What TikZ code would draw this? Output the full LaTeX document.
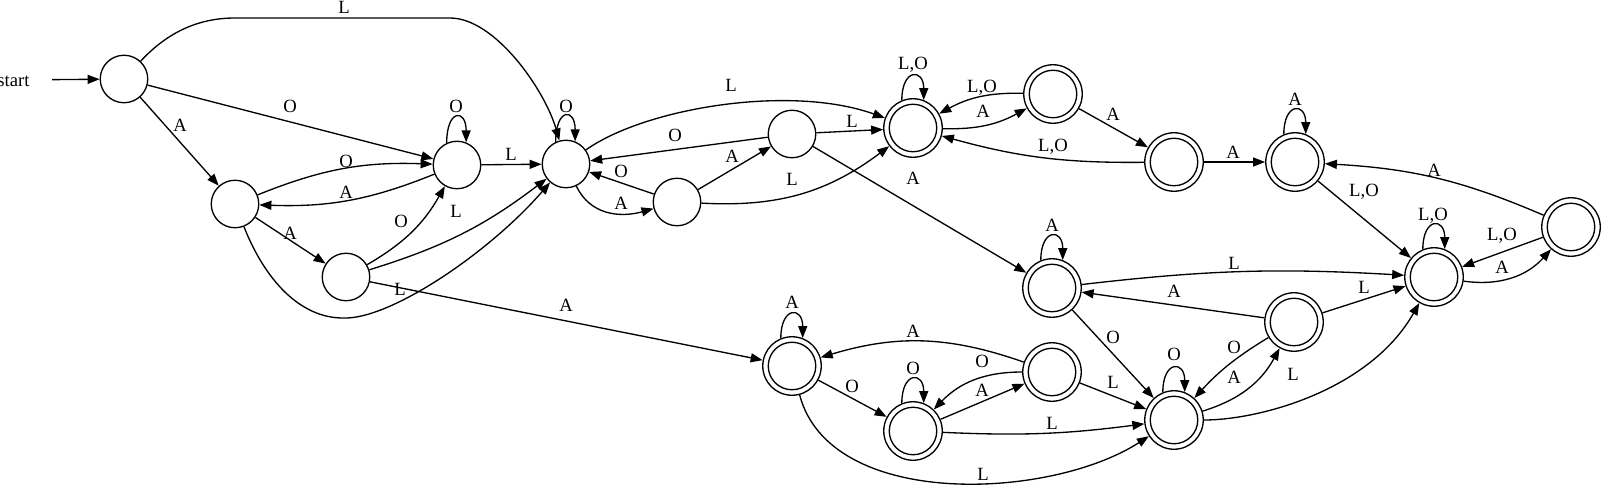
\documentclass[tikz,border=0pt]{standalone}
\usepackage{fontspec}
\setmainfont{Liberation Serif}
\usetikzlibrary{arrows.meta}
\begin{document}
\begin{tikzpicture}[x=1pt,y=-1pt,
  every node/.style={font=\fontsize{18.67}{20}\selectfont},
  st/.style={circle, draw, line width=1.33pt, minimum size=47.5pt, inner sep=0pt},
  acc/.style={st, minimum size=58.5pt,
    path picture={\draw[line width=1.33pt] (path picture bounding box.center) circle (23.75pt);}},
  e/.style={draw, line width=1.33pt, -{Triangle[length=12pt,width=9pt]}},
  lbl/.style={inner sep=0pt, text height=12.4pt, text depth=0pt, anchor=center},
]
\useasboundingbox (0,0) rectangle (1603,490);
% states
\node[lbl, minimum width=77pt] (start) at (13.5,80) {start};
\node[st] (q0) at (124,79) {};
\node[st] (q1) at (235,204) {};
\node[st] (q2) at (457,165) {};
\node[st] (q3) at (346,277) {};
\node[st] (q4) at (566,164) {};
\node[st] (q5) at (677,202) {};
\node[st] (q6) at (792,134) {};
\node[acc] (F1) at (913,128) {};
\node[acc] (F2) at (1053,94) {};
\node[acc] (F3) at (1174,162) {};
\node[acc] (F4) at (1295,162) {};
\node[acc] (F5) at (1052,288) {};
\node[acc] (F6) at (1434,277) {};
\node[acc] (F7) at (1571,227) {};
\node[acc] (F8) at (1294,322) {};
\node[acc] (G1) at (792,366) {};
\node[acc] (G2) at (913,431) {};
\node[acc] (G3) at (1052,372) {};
\node[acc] (G4) at (1174,420) {};
% transitions
\draw[e] (start) -- (q0);
\draw[e] (q0) .. controls (165,35) and (195,18) .. (235,18) -- (450,18) .. controls (495,18) and (545,90) .. (q4) node[lbl] at (344,7) {L};
\draw[e] (q0) -- (q2) node[lbl] at (290,106) {O};
\draw[e] (q0) -- (q1) node[lbl] at (180,125) {A};
\draw[e] (q1) to[bend left=12] (q2) node[lbl] at (346,161) {O};
\draw[e] (q2) to[bend left=12] (q1) node[lbl] at (346,192) {A};
\draw[e] (q1) -- (q3) node[lbl] at (290,233) {A};
\draw[e] (q1) .. controls (265,280) and (300,318) .. (343,318) .. controls (390,320) and (490,252) .. (q4) node[lbl] at (400,289) {L};
\draw[e] (q2.115) .. controls +(0,-34) and +(0,-34) .. (q2.68) node[lbl] at (456,106) {O};
\draw[e] (q2) -- (q4) node[lbl] at (511,154) {L};
\draw[e] (q3) to[bend right=15] (q2) node[lbl] at (401,221) {O};
\draw[e] (q3) to[bend right=10] (q4) node[lbl] at (456,211) {L};
\draw[e] (q3) -- (G1) node[lbl] at (566,305) {A};
\draw[e] (q4.115) .. controls +(0,-34) and +(0,-34) .. (q4.68) node[lbl] at (566,106) {O};
\draw[e] (q4) .. controls (645,108) and (790,84) .. (F1) node[lbl] at (731,85) {L};
\draw[e] (q4) .. controls (590,215) and (620,218) .. (q5) node[lbl] at (621,203) {A};
\draw[e] (q5) -- (q4) node[lbl] at (621,171) {O};
\draw[e] (q6) -- (q4) node[lbl] at (675,135) {O};
\draw[e] (q5) -- (q6) node[lbl] at (732,156) {A};
\draw[e] (q5) to[bend right=20] (F1) node[lbl] at (792,179) {L};
\draw[e] (q6) -- (F1) node[lbl] at (852,121) {L};
\draw[e] (q6) -- (F5) node[lbl] at (913,178) {A};
\draw[e] (F1.112) .. controls +(0,-32) and +(0,-32) .. (F1.69) node[lbl] at (913,63) {L,O};
\draw[e] (F1) to[bend right=15] (F2) node[lbl] at (983,111) {A};
\draw[e] (F2) to[bend right=15] (F1) node[lbl] at (982,86) {L,O};
\draw[e] (F3) to[bend left=8] (F1) node[lbl] at (1053,145) {L,O};
\draw[e] (F2) -- (F3) node[lbl] at (1113,114) {A};
\draw[e] (F3) -- (F4) node[lbl] at (1233,152) {A};
\draw[e] (F4.112) .. controls +(0,-32) and +(0,-32) .. (F4.69) node[lbl] at (1295,99) {A};
\draw[e] (F4) -- (F6) node[lbl] at (1364,190) {L,O};
\draw[e] (F7) to[bend right=10] (F4) node[lbl] at (1434,170) {A};
\draw[e] (F6.112) .. controls +(0,-32) and +(0,-32) .. (F6.69) node[lbl] at (1433,214) {L,O};
\draw[e] (F7) -- (F6) node[lbl] at (1502,234) {L,O};
\draw[e] (F6) to[bend right=28] (F7) node[lbl] at (1502,267) {A};
\draw[e] (F5.112) .. controls +(0,-32) and +(0,-32) .. (F5.69) node[lbl] at (1052,225) {A};
\draw[e] (F5) to[bend left=5] (F6) node[lbl] at (1234,263) {L};
\draw[e] (F8) -- (F5) node[lbl] at (1174,291) {A};
\draw[e] (F5) -- (G4) node[lbl] at (1113,337) {O};
\draw[e] (F8) -- (F6) node[lbl] at (1364,287) {L};
\draw[e] (F8) to[bend right=8] (G4) node[lbl] at (1234,347) {O};
\draw[e] (G4) to[bend right=22] (F8) node[lbl] at (1234,377) {A};
\draw[e] (G4.112) .. controls +(0,-32) and +(0,-32) .. (G4.69) node[lbl] at (1174,354) {O};
\draw[e] (G4) .. controls (1260,420) and (1370,390) .. (F6) node[lbl] at (1293,374) {L};
\draw[e] (G1.112) .. controls +(0,-32) and +(0,-32) .. (G1.69) node[lbl] at (792,302) {A};
\draw[e] (G1) -- (G2) node[lbl] at (852,386) {O};
\draw[e] (G3) to[bend right=18] (G1) node[lbl] at (913,331) {A};
\draw[e] (G1) .. controls (830,510) and (1050,500) .. (G4) node[lbl] at (983,474) {L};
\draw[e] (G2.112) .. controls +(0,-32) and +(0,-32) .. (G2.69) node[lbl] at (913,368) {O};
\draw[e] (G2) -- (G3) node[lbl] at (982,390) {A};
\draw[e] (G3) to[bend right=23] (G2) node[lbl] at (982,361) {O};
\draw[e] (G2) to[bend right=5] (G4) node[lbl] at (1052,423) {L};
\draw[e] (G3) -- (G4) node[lbl] at (1113,382) {L};
\end{tikzpicture}
\end{document}
